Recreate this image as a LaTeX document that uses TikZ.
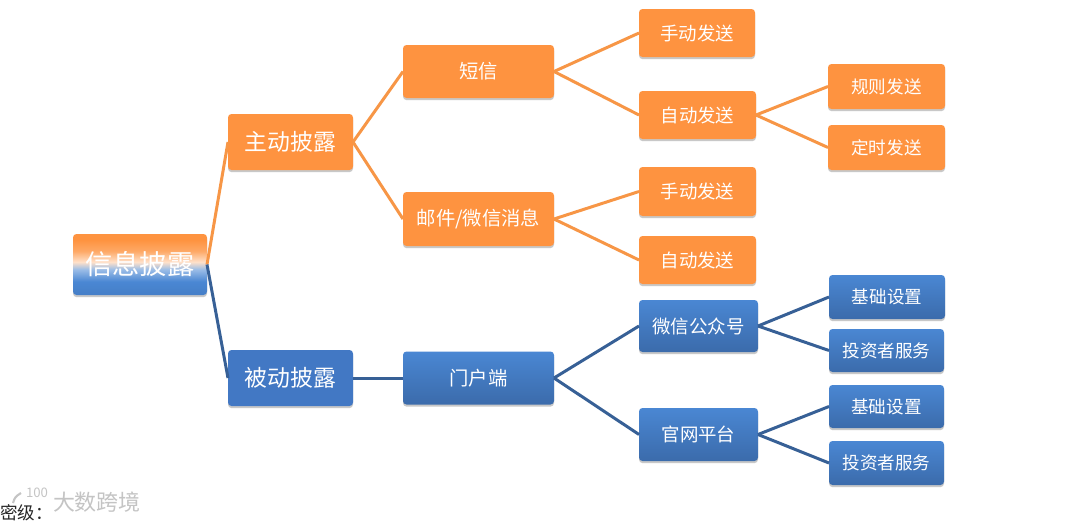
\documentclass[tikz,border=0pt]{standalone}
\usepackage{fontspec}
\setmainfont{Noto Sans CJK SC}
\usetikzlibrary{shadows}
\definecolor{boxorange}{HTML}{FE9340}
\definecolor{linkorange}{HTML}{F79646}
\definecolor{boxblue}{HTML}{4278C4}
\definecolor{blueup}{HTML}{4A87D3}
\definecolor{bluedown}{HTML}{3B6BAB}
\definecolor{linkblue}{HTML}{376096}
\definecolor{markgray}{HTML}{C4C4C4}
\pgfdeclareverticalshading{rootfade}{100bp}{
  color(0bp)=(bluedown); color(36bp)=(blueup); color(46bp)=(blueup!55!white);
  color(52bp)=(white!72!boxorange); color(61bp)=(boxorange!80!white); color(70bp)=(boxorange); color(100bp)=(boxorange)}
\tikzset{
  basebox/.style={rounded corners=2pt,text=white,inner sep=0pt,outer sep=0pt,
    drop shadow={shadow xshift=0pt,shadow yshift=-1.2pt,opacity=.3,fill=black!70}},
  orangebox/.style={basebox,fill=boxorange},
  bluebox/.style={basebox,top color=blueup,bottom color=bluedown},
  flatblue/.style={basebox,fill=boxblue},
  rootbox/.style={basebox,shading=rootfade},
  orangelink/.style={draw=linkorange,line width=1.7pt},
  bluelink/.style={draw=linkblue,line width=1.7pt},
  markmuted/.style={inner sep=0pt,outer sep=0pt,text=markgray}
}
\begin{document}
\begin{tikzpicture}[x=0.02cm,y=-0.02cm]
  \def\u{0.02cm}
  \useasboundingbox (0,0) rectangle (1080,522);
  \fill [white] (0,0) rectangle (1080,522);
  % Draw boxes
  \def\boxes{
    \node [rootbox,minimum width=134*\u,minimum height=61*\u,font=\fontsize{15.5}{18}\selectfont] (xinxi) at (140,264.5) {信息披露};
    \node [orangebox,minimum width=125*\u,minimum height=56*\u,font=\fontsize{13}{16}\selectfont] (zhudong) at (290.5,142) {主动披露};
    \node [flatblue,minimum width=125*\u,minimum height=56*\u,font=\fontsize{13}{16}\selectfont] (beidong) at (290.5,378) {被动披露};
    \node [orangebox,minimum width=151*\u,minimum height=53*\u,font=\fontsize{11}{14}\selectfont] (duanxin) at (478.5,71.5) {短信};
    \node [orangebox,minimum width=151*\u,minimum height=54*\u,font=\fontsize{11}{14}\selectfont] (youjian) at (478.5,219) {邮件/微信消息};
    \node [bluebox,minimum width=151*\u,minimum height=53*\u,font=\fontsize{11}{14}\selectfont] (menhu) at (478.5,378) {门户端};
    \node [orangebox,minimum width=116*\u,minimum height=48*\u,font=\fontsize{10.5}{13}\selectfont] (shoudongA) at (697,33) {手动发送};
    \node [orangebox,minimum width=117*\u,minimum height=48*\u,font=\fontsize{10.5}{13}\selectfont] (zidongA) at (697.5,115) {自动发送};
    \node [orangebox,minimum width=117*\u,minimum height=49*\u,font=\fontsize{10.5}{13}\selectfont] (shoudongB) at (697.5,191.5) {手动发送};
    \node [orangebox,minimum width=117*\u,minimum height=48*\u,font=\fontsize{10.5}{13}\selectfont] (zidongB) at (697.5,260) {自动发送};
    \node [bluebox,minimum width=119*\u,minimum height=52*\u,font=\fontsize{10.5}{13}\selectfont] (weixin) at (698.5,326) {微信公众号};
    \node [bluebox,minimum width=119*\u,minimum height=53*\u,font=\fontsize{10.5}{13}\selectfont] (guanwang) at (698.5,434.5) {官网平台};
    \node [orangebox,minimum width=117*\u,minimum height=45*\u,font=\fontsize{10}{13}\selectfont] (guize) at (886.5,86.5) {规则发送};
    \node [orangebox,minimum width=117*\u,minimum height=45*\u,font=\fontsize{10}{13}\selectfont] (dingshi) at (886.5,147.5) {定时发送};
    \node [bluebox,minimum width=116*\u,minimum height=44*\u,font=\fontsize{10}{13}\selectfont] (jichuA) at (887,297) {基础设置};
    \node [bluebox,minimum width=115*\u,minimum height=43*\u,font=\fontsize{10}{13}\selectfont] (touziA) at (886.5,350.5) {投资者服务};
    \node [bluebox,minimum width=115*\u,minimum height=43*\u,font=\fontsize{10}{13}\selectfont] (jichuB) at (886.5,406.5) {基础设置};
    \node [bluebox,minimum width=115*\u,minimum height=44*\u,font=\fontsize{10}{13}\selectfont] (touziB) at (886.5,463) {投资者服务};
  }
  \def\showLinks{
    % Draw orange branches
    \foreach \a/\b in {xinxi/zhudong,zhudong/duanxin,zhudong/youjian,duanxin/shoudongA,duanxin/zidongA,
      zidongA/guize,zidongA/dingshi,youjian/shoudongB,youjian/zidongB} {
      \draw [orangelink] (\a.east) -- (\b.west);
    }
    % Draw blue branches
    \foreach \a/\b in {xinxi/beidong,beidong/menhu,menhu/weixin,menhu/guanwang,weixin/jichuA,weixin/touziA,
      guanwang/jichuB,guanwang/touziB} {
      \draw [bluelink] (\a.east) -- (\b.west);
    }
  }
  \boxes
  \showLinks
  % Watermark and bottom line
  \node [markmuted,anchor=west,font=\fontsize{12.5}{14}\selectfont] (shuiyin) at (53,502) {大数跨境};
  \node [markmuted,font=\fontsize{7.5}{8}\selectfont] (logonum) at (37,493) {100};
  \draw [markgray,line width=1.2pt] (13,503) .. controls (15,497) .. (21,493);
  \node [anchor=west,inner sep=0pt,outer sep=0pt,text=black!85,font=\fontsize{10}{12}\selectfont] (miji) at (0,512.5) {密级：};
\end{tikzpicture}
\end{document}
